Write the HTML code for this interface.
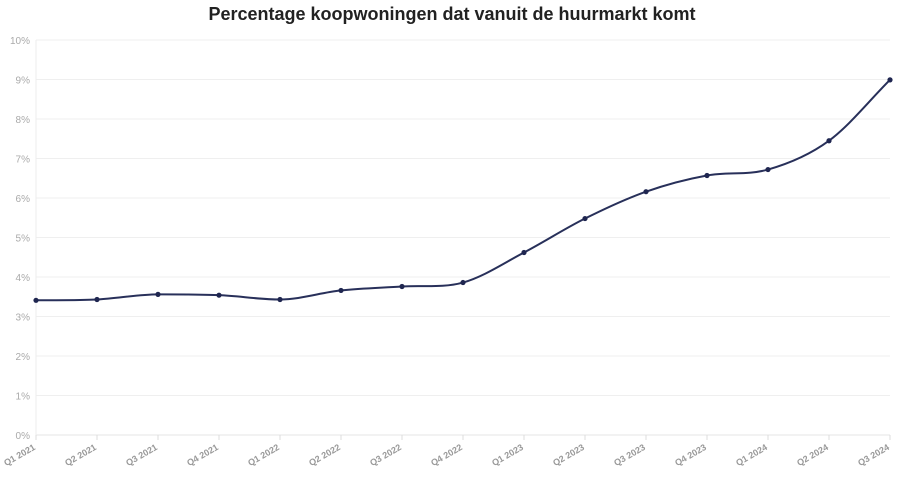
<!DOCTYPE html>
<html><head><meta charset="utf-8"><style>
body{margin:0;background:#fff;font-family:"Liberation Sans",sans-serif}
svg text{font-family:"Liberation Sans",sans-serif}
</style></head><body>
<svg id="c" width="904" height="482">
<text x="452" y="20" text-anchor="middle" font-size="18" font-weight="bold" fill="#222">Percentage koopwoningen dat vanuit de huurmarkt komt</text>
<g id="grid"></g><g id="xl"></g><path id="line" fill="none" stroke="#28305a" stroke-width="2"/><g id="pts"></g>
</svg>
<script>
const categories=["Q1 2021","Q2 2021","Q3 2021","Q4 2021","Q1 2022","Q2 2022","Q3 2022","Q4 2022","Q1 2023","Q2 2023","Q3 2023","Q4 2023","Q1 2024","Q2 2024","Q3 2024"];
const values=[3.41,3.43,3.56,3.54,3.43,3.66,3.76,3.86,4.62,5.48,6.16,6.57,6.72,7.45,8.99];
const yTicks=[0,1,2,3,4,5,6,7,8,9,10];
const NS="http://www.w3.org/2000/svg";
const X0=36,X1=890,Y0=435,Y1=40;
const xs=i=>X0+(X1-X0)*i/(categories.length-1);
const ys=v=>Y0-(Y0-Y1)*v/10;
function mk(t,a,p){const e=document.createElementNS(NS,t);for(const k in a)e.setAttribute(k,a[k]);p.appendChild(e);return e;}
const g=document.getElementById('grid');
yTicks.forEach(t=>{
const l=mk('line',{x1:X0,x2:X1,y1:ys(t),y2:ys(t),stroke:t==0?'#e4e4e4':'#efefef','stroke-width':1},g);


const tx=mk('text',{x:X0-6,y:ys(t)+4,'text-anchor':'end','font-size':10,fill:'#aaa'},g);
tx.textContent=t+'%';


});
mk('line',{x1:X0,x2:X0,y1:Y1,y2:Y0,stroke:'#eee'},g);
const xl=document.getElementById('xl');
categories.forEach((c,i)=>{
const x=xs(i);
mk('line',{x1:x,x2:x,y1:Y0,y2:Y0+5,stroke:'#ddd'},xl);
const t=mk('text',{x:x,y:Y0+14,'text-anchor':'end','font-size':9,'font-weight':'bold',fill:'#999',transform:`rotate(-30 ${x} ${Y0+14})`},xl);
t.textContent=c;


});
const P=values.map((v,i)=>[xs(i),ys(v)]);
// monotone cubic
const n=P.length,d=[],m=[];
for(let i=0;i<n-1;i++)d.push((P[i+1][1]-P[i][1])/(P[i+1][0]-P[i][0]));
for(let i=0;i<n;i++){if(i==0)m.push(d[0]);else if(i==n-1)m.push(d[n-2]);else m.push(d[i-1]*d[i]<=0?0:(d[i-1]+d[i])/2);}
let s=`M${P[0][0]},${P[0][1]}`;
for(let i=0;i<n-1;i++){const h=(P[i+1][0]-P[i][0])/3;s+=`C${P[i][0]+h},${P[i][1]+m[i]*h} ${P[i+1][0]-h},${P[i+1][1]-m[i+1]*h} ${P[i+1][0]},${P[i+1][1]}`;}
document.getElementById('line').setAttribute('d',s);
const pg=document.getElementById('pts');
P.forEach((p,i)=>{const c=mk('circle',{cx:p[0],cy:p[1],r:2.6,fill:'#1f2650'},pg);

});
</script>
</body></html>
